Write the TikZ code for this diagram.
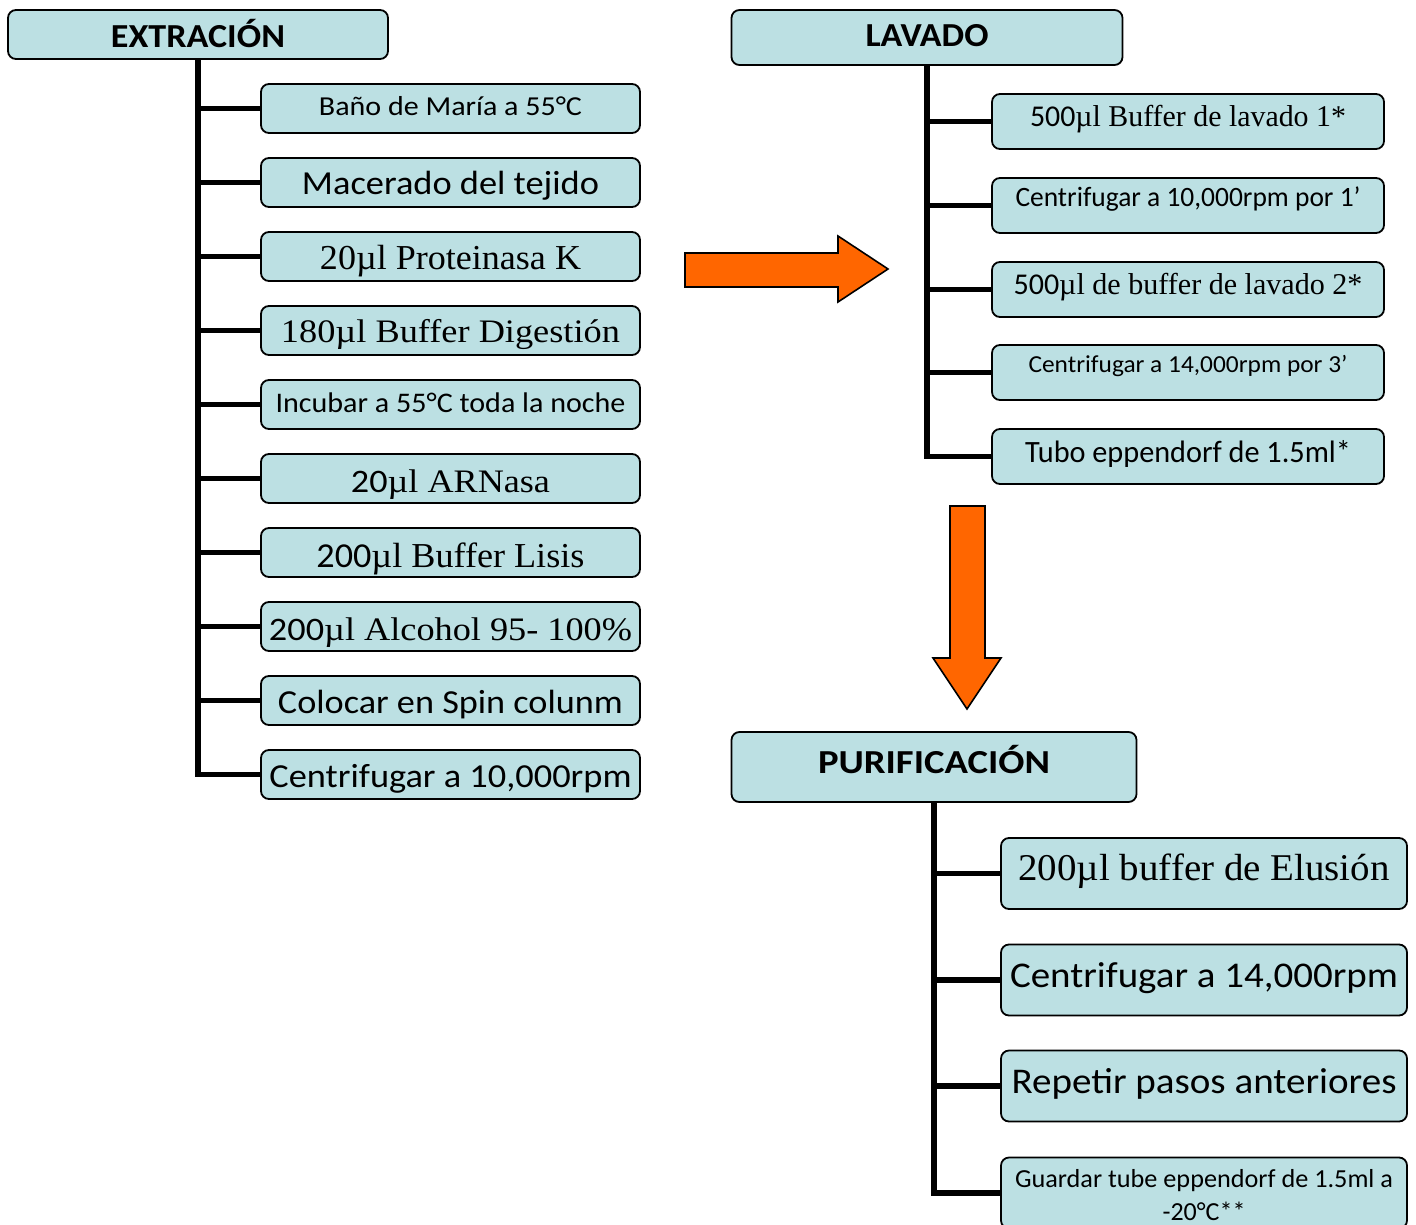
\documentclass[tikz,border=0pt]{standalone}
\usepackage{fontspec}
\usepackage{graphicx}
\setmainfont{Liberation Serif}
\newfontfamily\calfont{Carlito}
\definecolor{boxfill}{RGB}{188,224,227}
\definecolor{arroworange}{RGB}{255,102,0}
\newdimen\fitwd
\newcommand{\fitt}[4]{\fitwd=#1pt\relax\divide\fitwd by 2\relax\resizebox{\fitwd}{\height}{#2\fontsize{#3}{#3}\selectfont #4}}
\tikzset{
  x=0.5pt, y=-0.5pt,
  stepbox/.style={draw=black, line width=0.9pt, fill=boxfill, rounded corners=4pt, inner sep=0pt},
  lbl/.style={anchor=base, inner sep=0pt},
  trunk/.style={draw=black, line width=2.8pt},
  bigarrow/.style={draw=black, line width=0.8pt, fill=arroworange, line join=miter},
}
\begin{document}
\begin{tikzpicture}
\useasboundingbox (0,0) rectangle (1416,1224);
\clip (0,0) rectangle (1416,1224);

% ---------- EXTRACCION ----------
\node[stepbox, minimum width=190pt, minimum height=24.5pt] (ext) at (198,34.5) {};
\foreach \i/\yy in {1/108.5,2/182.5,3/256.5,4/330.5,5/404.5,6/478.5,7/552.5,8/626.5,9/700.5,10/774.5}{
  \node[stepbox, minimum width=189.5pt, minimum height=24.5pt] (e\i) at (450.5,\yy) {};
}
\draw[trunk] (ext.south) |- (e10.west);
\foreach \i in {1,...,9}{
  \draw[trunk] (ext.south |- e\i.west) -- (e\i.west);
}
\node[lbl] (extt) at (198,48) {\fitt{174}{\calfont\bfseries}{16.8}{EXTRACIÓN}};
\node[lbl] (e1t) at (450.5,116) {\fitt{263}{\calfont}{13.7}{Baño de María a 55°C}};
\node[lbl] (e2t) at (450.5,195) {\fitt{297}{\calfont}{16.8}{Macerado del tejido}};
\node[lbl] (e3t) at (450.5,270) {\fitt{261}{}{17.5}{20µl Proteinasa K}};
\node[lbl] (e4t) at (450.5,343) {\fitt{339}{}{16.4}{180µl Buffer Digestión}};
\node[lbl] (e5t) at (450.5,413) {\fitt{350}{\calfont}{14.2}{Incubar a 55°C toda la noche}};
\node[lbl] (e6t) at (450.5,492) {\fitt{199}{}{16.4}{{\calfont 20}µl ARNasa}};
\node[lbl] (e7t) at (450.5,567) {\fitt{268}{}{17.5}{{\calfont 200}µl Buffer Lisis}};
\node[lbl] (e8t) at (450.5,640) {\fitt{363}{}{16.4}{{\calfont 200}µl Alcohol 95- 100\%}};
\node[lbl] (e9t) at (450.5,713) {\fitt{345}{\calfont}{16.8}{Colocar en Spin colunm}};
\node[lbl] (e10t) at (450.5,787) {\fitt{362}{\calfont}{16.8}{Centrifugar a 10,000rpm}};

% ---------- right arrow ----------
\draw[bigarrow] (685,253) -- (838,253) -- (838,236) -- (888,269) -- (838,302) -- (838,287) -- (685,287) -- cycle;

% ---------- LAVADO ----------
\node[stepbox, minimum width=195.5pt, minimum height=27.5pt] (lav) at (927,37.5) {};
\foreach \i/\yy in {1/121.5,2/205.5,3/289.5,4/372.5,5/456.5}{
  \node[stepbox, minimum width=196pt, minimum height=27.5pt] (l\i) at (1188,\yy) {};
}
\draw[trunk] (lav.south) |- (l5.west);
\foreach \i in {1,...,4}{
  \draw[trunk] (lav.south |- l\i.west) -- (l\i.west);
}
\node[lbl] (lavt) at (927,47) {\fitt{123}{\calfont\bfseries}{16.8}{LAVADO}};
\node[lbl] (l1t) at (1188,127) {\fitt{316}{}{15.1}{{\calfont 500}µl Buffer de lavado 1*}};
\node[lbl] (l2t) at (1188,207) {\fitt{345}{\calfont}{14}{Centrifugar a 10,000rpm por 1’}};
\node[lbl] (l3t) at (1188,295) {\fitt{349}{}{15.1}{{\calfont 500}µl de buffer de lavado 2*}};
\node[lbl] (l4t) at (1188,372) {\fitt{319}{\calfont}{12.2}{Centrifugar a 14,000rpm por 3’}};
\node[lbl] (l5t) at (1188,462) {\fitt{326}{\calfont}{15.5}{Tubo eppendorf de 1.5ml*}};

% ---------- down arrow ----------
\draw[bigarrow] (950,506) -- (985,506) -- (985,658) -- (1001,658) -- (967,709) -- (933,658) -- (950,658) -- cycle;

% ---------- PURIFICACION ----------
\node[stepbox, minimum width=202.5pt, minimum height=35pt] (pur) at (934,767) {};
\foreach \i/\yy in {1/873.5,2/980,3/1086,4/1193}{
  \node[stepbox, minimum width=203pt, minimum height=35.5pt] (p\i) at (1204,\yy) {};
}
\draw[trunk] (pur.south) |- (p4.west);
\foreach \i in {1,...,3}{
  \draw[trunk] (pur.south |- p\i.west) -- (p\i.west);
}
\node[lbl] (purt) at (934,773) {\fitt{232}{\calfont\bfseries}{16.8}{PURIFICACIÓN}};
\node[lbl] (p1t) at (1204,880) {\fitt{371}{}{18.9}{200µl buffer de Elusión}};
\node[lbl] (p2t) at (1204,987) {\fitt{388}{\calfont}{18.1}{Centrifugar a 14,000rpm}};
\node[lbl] (p3t) at (1204,1093) {\fitt{385}{\calfont}{18.1}{Repetir pasos anteriores}};
\node[lbl] (p4t) at (1204,1187) {\fitt{378}{\calfont}{13}{Guardar tube eppendorf de 1.5ml a}};
\node[lbl] (p4u) at (1204,1220) {\calfont\fontsize{13}{13}\selectfont -20°C**};
\end{tikzpicture}
\end{document}
